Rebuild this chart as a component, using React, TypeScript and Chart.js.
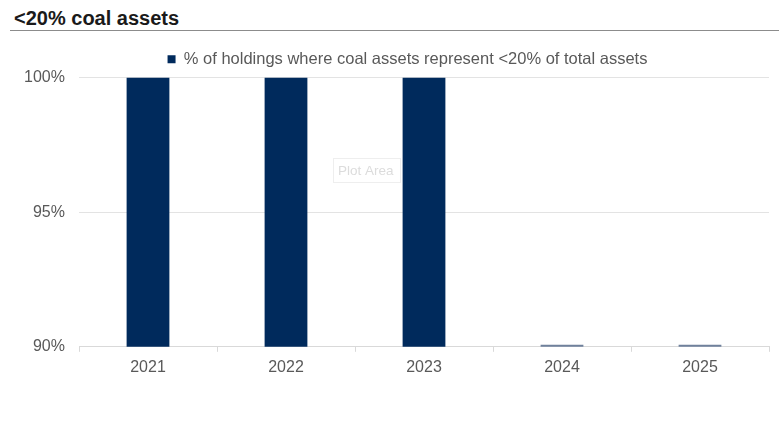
import React, { useEffect, useRef } from "react";
import { Chart, registerables } from "chart.js";

Chart.register(...registerables);

const categories = ["2021", "2022", "2023", "2024", "2025"];
const seriesName = "% of holdings where coal assets represent <20% of total assets";
const seriesValues = [100, 100, 100, 90.08, 90.08];
const barColors = ["#002a5c", "#002a5c", "#002a5c", "#6f819c", "#6f819c"];
const yTicks = [90, 95, 100];

const plotAreaLabel = {
  id: "plotAreaLabel",
  afterDraw(chart: any) {
    const ctx = chart.ctx;
    ctx.save();
    ctx.strokeStyle = "#eeeeee";
    ctx.lineWidth = 1;
    ctx.strokeRect(333.5, 158.5, 67, 24);
    ctx.fillStyle = "#dcdcdc";
    ctx.font = "13.5px 'Liberation Sans', Arial, sans-serif";
    ctx.textBaseline = "middle";
    ctx.fillText("Plot Area", 338, 171);
    ctx.restore();
  },
};

export default function App() {
  const ref = useRef<HTMLCanvasElement | null>(null);
  useEffect(() => {
    if (!ref.current) return;
    const chart = new Chart(ref.current, {
      type: "bar",
      data: {
        labels: categories,
        datasets: [
          {
            label: seriesName,
            data: seriesValues,
            backgroundColor: barColors,
            borderWidth: 0,
            categoryPercentage: 1,
            barPercentage: 0.31,
          },
        ],
      },
      options: {
        animation: false,
        responsive: false,
        maintainAspectRatio: false,
        layout: { padding: { left: 46, right: 10, top: 45, bottom: 43 } },
        plugins: {
          tooltip: { enabled: false },
          legend: {
            display: true,
            position: "top",
            labels: {
              color: "#595959",
              font: { family: "'Liberation Sans', Arial, sans-serif", size: 16.5 },
              boxWidth: 8,
              boxHeight: 8,
              padding: 6,
              generateLabels: () => [
                {
                  text: seriesName,
                  fillStyle: "#002a5c",
                  strokeStyle: "#002a5c",
                  fontColor: "#595959",
                  lineWidth: 0,
                  hidden: false,
                  datasetIndex: 0,
                },
              ],
            },
          },
        },
        scales: {
          x: {
            grid: {
              display: true,
              drawOnChartArea: false,
              drawTicks: true,
              tickLength: 5,
              color: "#d9d9d9",
              offset: true,
            },
            border: { display: true, color: "#d9d9d9" },
            ticks: {
              color: "#595959",
              font: { family: "'Liberation Sans', Arial, sans-serif", size: 16 },
              padding: 6,
            },
          },
          y: {
            min: 90,
            max: 100,
            afterFit: (s: any) => {
              s.width = 33;
            },
            afterBuildTicks: (s: any) => {
              s.ticks = yTicks.map((v) => ({ value: v }));
            },
            grid: { color: "#e3e3e3", drawTicks: false },
            border: { display: false },
            ticks: {
              color: "#595959",
              font: { family: "'Liberation Sans', Arial, sans-serif", size: 16 },
              mirror: true,
              crossAlign: "far",
              padding: -55,
              callback: (v: any) => v + "%",
            },
          },
        },
      },
      plugins: [plotAreaLabel],
    });
    return () => chart.destroy();
  }, []);

  return (
    <div style={{ position: "absolute", left: 0, top: 0, width: 779, height: 426, background: "#fff", overflow: "hidden" }}>
      <div
        style={{
          position: "absolute",
          left: 14,
          top: 6,
          fontFamily: "'Liberation Sans', Arial, sans-serif",
          fontWeight: "bold",
          fontSize: 20,
          lineHeight: "24px",
          color: "#1a1a1a",
        }}
      >
        &lt;20% coal assets
      </div>
      <div style={{ position: "absolute", left: 10, top: 30, width: 769, height: 1, background: "#8c8c8c" }} />
      <canvas ref={ref} width={779} height={426} style={{ position: "absolute", left: 0, top: 0 }} />
    </div>
  );
}
